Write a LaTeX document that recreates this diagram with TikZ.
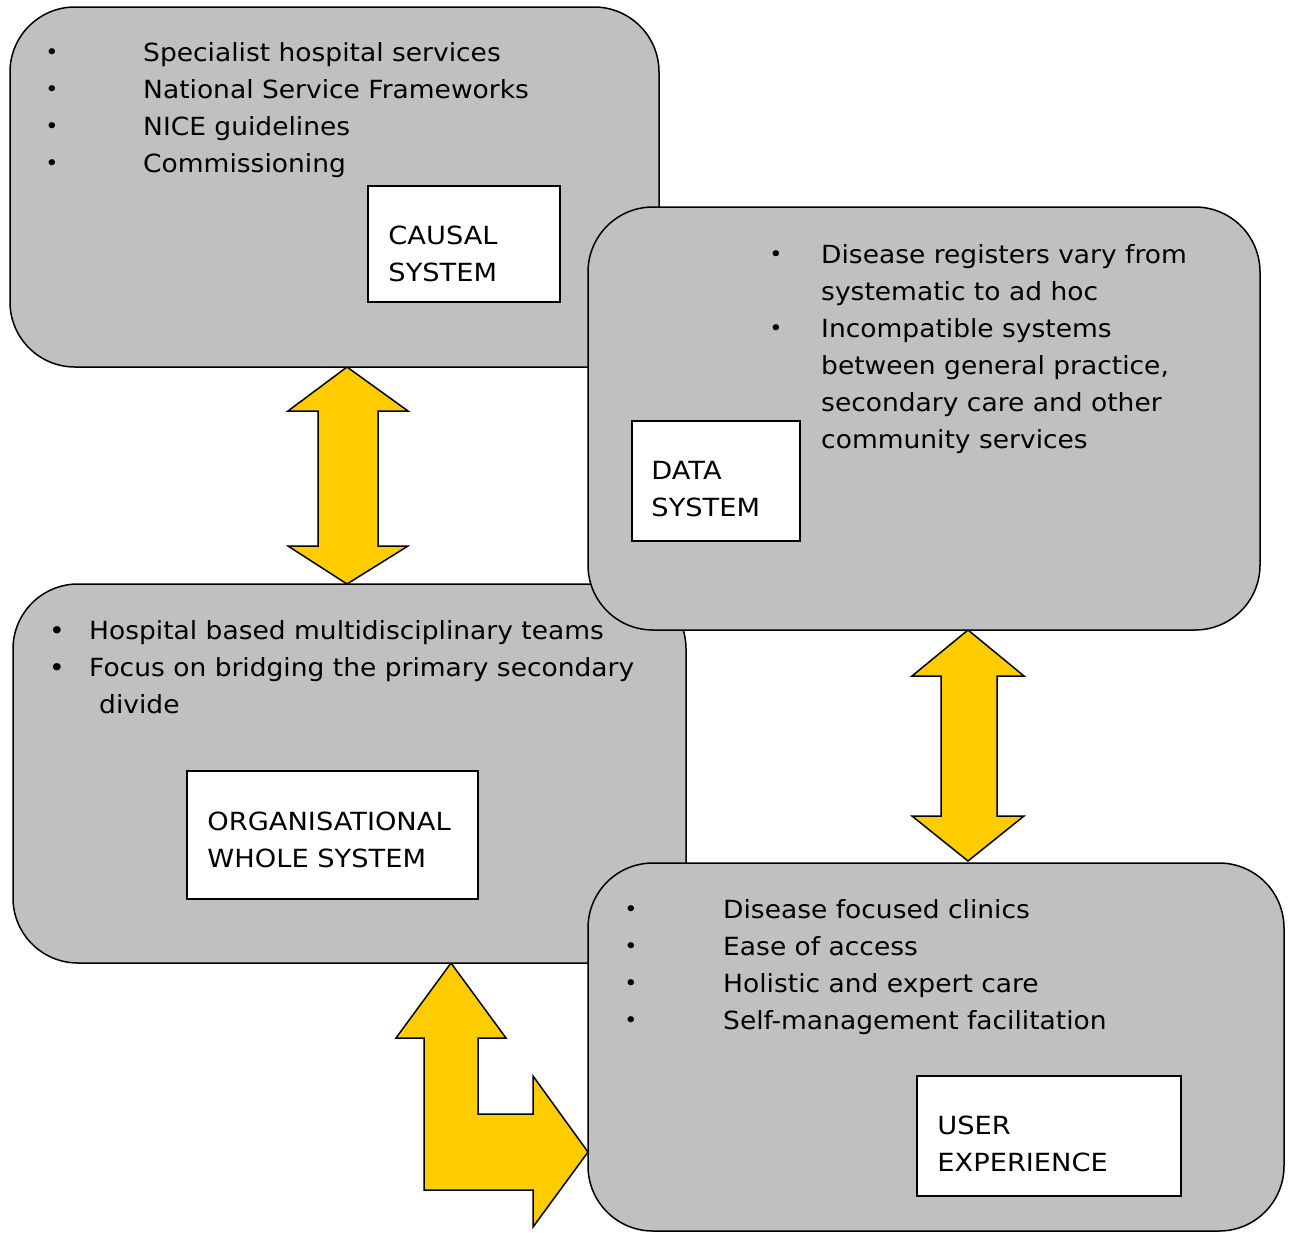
\documentclass[tikz,border=0pt]{standalone}
\usepackage{fontspec}
\setmainfont{DejaVu Sans}[FakeStretch=1.06]
\newfontfamily\tagfont{DejaVu Sans}[FakeStretch=1.09]
\begin{document}
\begin{tikzpicture}[x=1pt,y=-1pt,
  panel/.style={draw=black,line width=1.5pt,fill=panelgray,rounded corners=65pt,inner sep=0pt},
  tag/.style={draw=black,line width=1.5pt,fill=white,inner sep=0pt},
  txt/.style={anchor=base west,inner sep=0pt,font=\fontsize{25}{37}\selectfont},
  tagtxt/.style={txt,align=left,font=\tagfont\fontsize{25}{37}\selectfont},
  dot/.style={anchor=base,inner sep=0pt,yshift=1.5pt,font=\fontsize{21}{21}\selectfont},
  bigdot/.style={anchor=base,inner sep=0pt,font=\fontsize{25}{25}\selectfont},
  blockarrow/.style={draw=black,line width=1.5pt,fill=arrowyellow,line join=miter}]
\definecolor{panelgray}{HTML}{C0C0C0}
\definecolor{arrowyellow}{HTML}{FFCC00}
\useasboundingbox (0,0) rectangle (1293,1232);

% block arrows (behind the panels)
\draw[blockarrow] (347,367) -- (408,411) -- (378,411) -- (378,546) -- (408,546) -- (347,584)
  -- (288,546) -- (318,546) -- (318,411) -- (288,411) -- cycle;
\draw[blockarrow] (968,630) -- (1024,676) -- (997,676) -- (997,816) -- (1024,816) -- (968,861)
  -- (912,816) -- (941,816) -- (941,676) -- (912,676) -- cycle;
\draw[blockarrow] (451,963) -- (506,1038) -- (478,1038) -- (478,1114) -- (533,1114) -- (533,1076)
  -- (588,1152) -- (533,1227) -- (533,1190) -- (424,1190) -- (424,1038) -- (396,1038) -- cycle;

% causal system panel
\node[panel,minimum width=649pt,minimum height=360pt] (causal) at (334.5,187) {};
\foreach \t [count=\i from 0] in {Specialist hospital services,National Service Frameworks,NICE guidelines,Commissioning}{
  \node[dot] (cb\i) at (52,61+37*\i) {•};
  \node[txt] (ct\i) at (143,61+37*\i) {\t};
}
\node[tag,minimum width=192pt,minimum height=116pt] (causaltag) at (464,244) {};
\node[tagtxt] (causallbl) at ([shift={(21,96)}]causaltag.north west) {CAUSAL\\SYSTEM};

% organisational panel
\node[panel,minimum width=673pt,minimum height=379pt] (org) at (349.5,773.5) {};
\node[bigdot] (ob0) at (57,639) {•};
\node[txt] (ot0) at (89,639) {Hospital based multidisciplinary teams};
\node[bigdot] (ob1) at (57,676) {•};
\node[txt] (ot1) at (89,676) {Focus on bridging the primary secondary};
\node[txt] (ot2) at (99,713) {divide};
\node[tag,minimum width=291pt,minimum height=128pt] (orgtag) at (332.5,835) {};
\node[tagtxt] (orglbl) at ([shift={(21,97)}]orgtag.north west) {ORGANISATIONAL\\WHOLE SYSTEM};

% data system panel
\node[panel,minimum width=672pt,minimum height=423pt] (data) at (924,418.5) {};
\node[dot] (db0) at (776,263) {•};
\node[txt] (dt0) at (821,263) {Disease registers vary from};
\node[txt] (dt1) at (821,300) {systematic to ad hoc};
\node[dot] (db1) at (776,337) {•};
\node[txt] (dt2) at (821,337) {Incompatible systems};
\node[txt] (dt3) at (821,374) {between general practice,};
\node[txt] (dt4) at (821,411) {secondary care and other};
\node[txt] (dt5) at (821,448) {community services};
\node[tag,minimum width=168pt,minimum height=120pt] (datatag) at (716,481) {};
\node[tagtxt] (datalbl) at ([shift={(20,96)}]datatag.north west) {DATA\\SYSTEM};

% user experience panel
\node[panel,minimum width=696pt,minimum height=368pt] (user) at (936,1047) {};
\foreach \t [count=\i from 0] in {Disease focused clinics,Ease of access,Holistic and expert care,Self-management facilitation}{
  \node[dot] (ub\i) at (631,918+37*\i) {•};
  \node[txt] (ut\i) at (723,918+37*\i) {\t};
}
\node[tag,minimum width=264pt,minimum height=120pt] (usertag) at (1049,1136) {};
\node[tagtxt] (userlbl) at ([shift={(21,96)}]usertag.north west) {USER\\EXPERIENCE};
\end{tikzpicture}
\end{document}
